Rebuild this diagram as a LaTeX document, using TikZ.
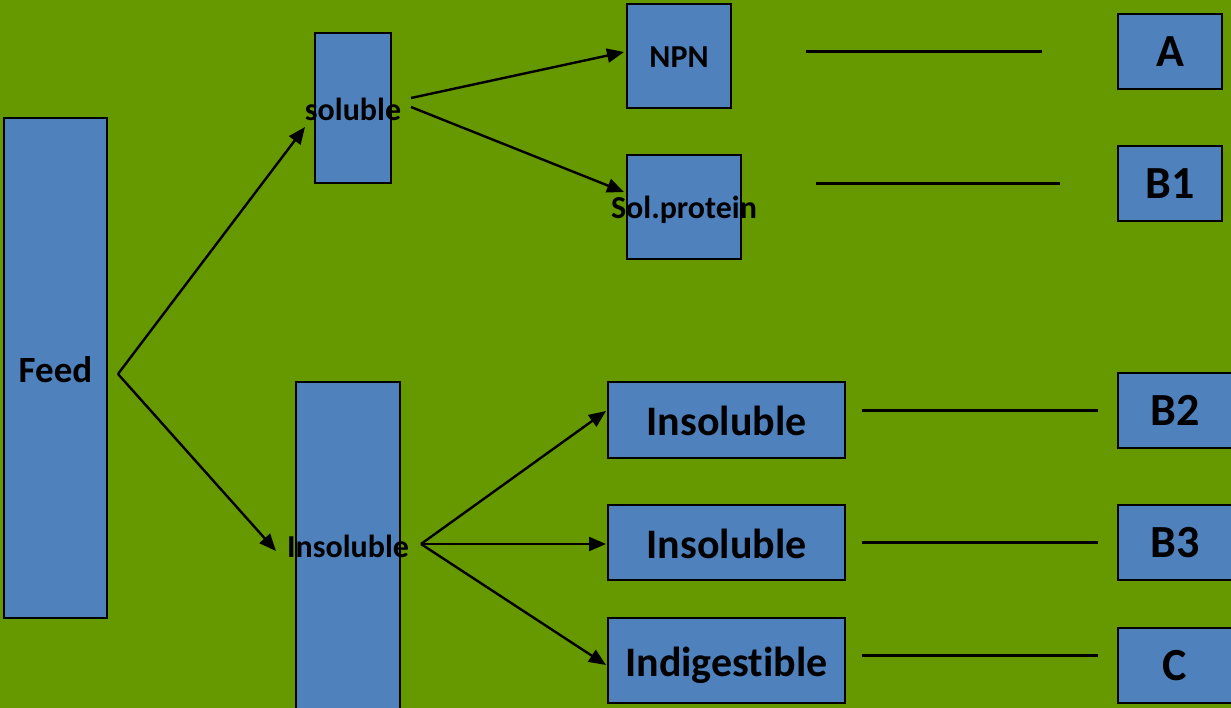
\documentclass[tikz,border=0pt]{standalone}
\usepackage{fontspec}
\setmainfont{Carlito}[Ligatures=NoCommon]
\usetikzlibrary{arrows.meta}
\definecolor{bggreen}{HTML}{669900}
\definecolor{boxblue}{HTML}{4F81BD}
\begin{document}
\begin{tikzpicture}[x=1pt,y=-1pt,
  box/.style={draw=black,line width=2pt,fill=boxblue,inner sep=0pt,font=\bfseries},
  small/.style={font=\bfseries\fontsize{32}{36}\selectfont},
  big/.style={font=\bfseries\fontsize{42}{46}\selectfont},
  letter/.style={font=\bfseries\fontsize{46}{50}\selectfont},
  arr/.style={line width=2.4pt,-{Triangle[length=17pt,width=14pt]}},
  ln/.style={line width=2.4pt}]
\fill[bggreen] (0,0) rectangle (1231,708);
\useasboundingbox (0,0) rectangle (1231,708);
% boxes
\node[box,minimum width=103pt,minimum height=500pt] (feed) at (55.5,368) {};
\node[box,minimum width=76pt,minimum height=150pt] (sol) at (353,108) {};
\node[box,minimum width=104pt,minimum height=328pt] (ins) at (348,546) {};
\node[box,minimum width=104pt,minimum height=104pt] (npn) at (679,56) {};
\node[box,minimum width=114pt,minimum height=104pt] (sp) at (684,207) {};
\node[box,minimum width=237pt,minimum height=76pt] (i1) at (726.5,420) {};
\node[box,minimum width=237pt,minimum height=75pt] (i2) at (726.5,542.5) {};
\node[box,minimum width=237pt,minimum height=85pt] (ind) at (726.5,660.5) {};
\node[box,minimum width=104pt,minimum height=75pt] (A) at (1170,51.5) {};
\node[box,minimum width=104pt,minimum height=75pt] (B1) at (1170,183.5) {};
\node[box,minimum width=114pt,minimum height=75pt] (B2) at (1175,410.5) {};
\node[box,minimum width=114pt,minimum height=75pt] (B3) at (1175,542.5) {};
\node[box,minimum width=114pt,minimum height=75pt] (C) at (1175,665.5) {};
% labels
\node[font=\bfseries\fontsize{37}{42}\selectfont,inner sep=0pt] (tfeed) at ([yshift=-2pt]feed.center) {Feed};
\node[small,inner sep=0pt] (tsol) at ([yshift=-1pt]sol.center) {soluble};
\node[small,inner sep=0pt] (tins) at (ins.center) {Insoluble};
\node[small,inner sep=0pt] (tnpn) at ([yshift=-1pt]npn.center) {NPN};
\node[small,inner sep=0pt] (tsp) at ([yshift=-3pt]sp.center) {Sol.protein};
\node[big,inner sep=0pt] (ti1) at ([yshift=-1pt]i1.center) {Insoluble};
\node[big,inner sep=0pt] (ti2) at ([yshift=-1pt]i2.center) {Insoluble};
\node[big,inner sep=0pt] (tind) at ([yshift=-5pt]ind.center) {Indigestible};
\node[letter,inner sep=0pt] (tA) at (A.center) {A};
\node[letter,inner sep=0pt] (tB1) at (B1.center) {B1};
\node[letter,inner sep=0pt] (tB2) at (B2.center) {B2};
\node[letter,inner sep=0pt] (tB3) at (B3.center) {B3};
\node[letter,inner sep=0pt] (tC) at (C.center) {C};
% arrows
\draw[arr] ([shift={(10,6)}]feed.east) -- ([shift={(-9,19)}]sol.west);
\draw[arr] ([shift={(10,6)}]feed.east) -- ([shift={(-19,5)}]ins.west);
\draw[arr] ([shift={(19,-10)}]sol.east) -- ([shift={(-2,-4)}]npn.west);
\draw[arr] ([shift={(19,-1)}]sol.east) -- ([shift={(-2,-15)}]sp.west);
\draw[arr] ([shift={(20,-2)}]ins.east) -- ([shift={(-1,-9)}]i1.west);
\draw[arr] ([shift={(20,-2)}]ins.east) -- ([shift={(-1,1.5)}]i2.west);
\draw[arr] ([shift={(20,-2)}]ins.east) -- ([shift={(-1,4.5)}]ind.west);
% lines
\draw[ln] ([xshift=-311pt]A.west) -- ([xshift=-75pt]A.west);
\draw[ln] ([xshift=-301pt]B1.west) -- ([xshift=-57pt]B1.west);
\draw[ln] ([xshift=-255pt]B2.west) -- ([xshift=-19pt]B2.west);
\draw[ln] ([xshift=-255pt]B3.west) -- ([xshift=-19pt]B3.west);
\draw[ln] ([xshift=-255pt,yshift=10pt]C.west) -- ([xshift=-19pt,yshift=10pt]C.west);
\end{tikzpicture}
\end{document}
